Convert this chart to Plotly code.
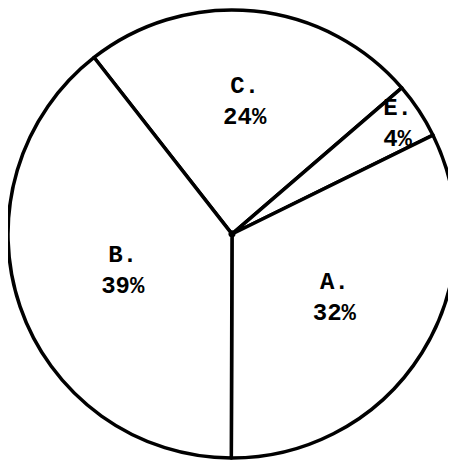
import plotly.graph_objects as go

# slices listed clockwise, starting from the B/C boundary at upper left
labels = ['C', 'E', 'A', 'B']
percents = [24, 4, 32, 39]

fig = go.Figure(go.Pie(
    labels=labels,
    values=percents,
    sort=False,
    direction='clockwise',
    rotation=-38,
    hole=0.008,  # tiny hole gives the inked dot at the centre
    texttemplate='%{label}.<br>%{value}%',
    textposition='inside',
    insidetextorientation='horizontal',
    textfont=dict(family='Liberation Mono', size=24, color='black', weight='bold'),
    marker=dict(colors=['white'] * 4, line=dict(color='black', width=3.5)),
    showlegend=False,
    hoverinfo='label+percent',
))

# page body keeps its default 8px margin, so the figure is 16px smaller than the window
fig.update_layout(
    width=448, height=452,
    margin=dict(l=0, r=0, t=0, b=0),
    paper_bgcolor='white',
    plot_bgcolor='white',
    uniformtext=dict(minsize=20, mode='show'),
)

fig.write_html("out.html")
